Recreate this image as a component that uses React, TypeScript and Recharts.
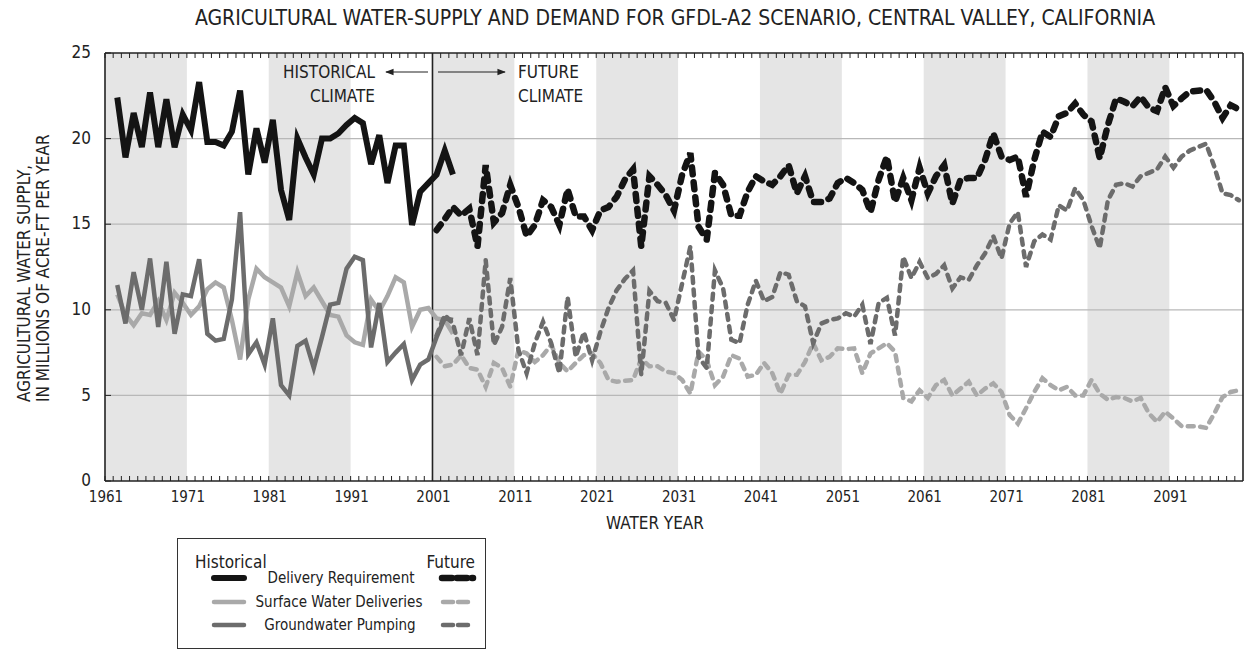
import React from "react";
import {
  LineChart,
  Line,
  XAxis,
  YAxis,
  ReferenceArea,
  ReferenceLine,
} from "recharts";

const FONT = "'Liberation Sans Narrow', 'DejaVu Sans Condensed', 'Roboto Condensed', sans-serif";
const INK = "#222";

// historical simulation, water years 1962-2003
const HIST_START = 1962;
const histDelivery = [
  22.4, 18.9, 21.5, 19.5, 22.7, 19.5, 22.3, 19.5, 21.4, 20.5,
  23.3, 19.8, 19.8, 19.6, 20.4, 22.8, 17.9, 20.6, 18.6, 21.1,
  17.0, 15.25, 20.0, 18.9, 17.9, 20.0, 20.0, 20.3, 20.8, 21.2,
  20.9, 18.5, 20.2, 17.4, 19.6, 19.6, 14.95, 16.9, 17.4, 17.9,
  19.3, 17.9,
];
const histSurface = [
  10.9, 9.7, 9.1, 9.8, 9.7, 10.5, 9.4, 11.0, 10.4, 9.7,
  10.2, 11.2, 11.6, 11.3, 9.4, 7.1, 10.6, 12.4, 11.9, 11.6,
  11.3, 10.2, 12.2, 10.8, 11.3, 10.5, 9.7, 9.6, 8.5, 8.1,
  7.95, 10.6, 9.9, 10.8, 11.9, 11.6, 9.0, 10.0, 10.1, 9.5,
  9.4, 8.6,
];
const histGround = [
  11.45, 9.2, 12.2, 10.0, 13.0, 9.0, 12.8, 8.6, 10.9, 10.8,
  12.95, 8.6, 8.2, 8.3, 10.6, 15.7, 7.4, 8.1, 6.8, 9.5,
  5.6, 5.0, 7.9, 8.2, 6.6, 8.4, 10.3, 10.4, 12.4, 13.1,
  12.9, 7.8, 10.4, 6.95, 7.5, 8.0, 5.9, 6.8, 7.1, 8.4,
  9.5, 9.4,
];

// GFDL-A2 future climate, water years 2001-2099
const FUT_START = 2001;
const futDelivery = [
  14.65, 15.3, 16.0, 15.5, 15.9, 13.7, 18.45, 15.1, 15.65, 17.3,
  16.0, 14.3, 14.95, 16.4, 16.0, 14.95, 17.05, 15.45, 15.45, 14.65,
  15.8, 16.0, 16.6, 17.6, 18.2, 13.7, 17.8, 17.3, 16.7, 15.8,
  17.9, 19.15, 14.85, 14.1, 18.0, 17.3, 15.5, 15.5, 16.9, 17.8,
  17.5, 17.3, 17.8, 18.45, 16.8, 17.8, 16.3, 16.3, 16.5, 17.4,
  17.7, 17.4, 17.0, 15.7, 17.6, 18.95, 16.3, 17.7, 16.4, 18.3,
  16.8, 17.8, 18.45, 16.2, 17.6, 17.7, 17.7, 18.75, 20.3, 18.95,
  18.75, 18.95, 16.6, 18.75, 20.4, 20.1, 21.3, 21.5, 22.05, 21.4,
  21.0, 18.85, 20.8, 22.35, 22.15, 21.9, 22.45, 21.8, 21.6, 23.0,
  21.9, 22.35, 22.75, 22.8, 22.85, 22.15, 21.2, 21.95, 21.7,
];
const futSurface = [
  7.25, 6.7, 6.8, 7.35, 6.6, 6.5, 5.5, 6.9, 6.6, 5.5,
  7.65, 7.45, 6.95, 7.35, 7.95, 6.9, 6.4, 6.9, 7.35, 7.45,
  6.9, 5.9, 5.8, 5.85, 5.9, 7.15, 6.7, 6.7, 6.4, 6.3,
  5.9, 5.1, 7.55, 7.05, 5.6, 6.1, 7.35, 7.15, 6.1, 6.2,
  6.9, 6.3, 5.1, 6.2, 6.2, 6.95, 8.05, 7.05, 7.25, 7.75,
  7.7, 7.75, 6.3, 7.45, 7.75, 8.05, 7.55, 4.85, 4.65, 5.3,
  4.85, 5.6, 5.9, 5.0, 5.4, 5.8, 5.0, 5.4, 5.7, 5.2,
  3.85, 3.35, 4.25, 5.2, 6.0, 5.6, 5.3, 5.5, 5.0, 5.0,
  5.9, 5.1, 4.75, 4.9, 4.85, 4.65, 4.85, 3.95, 3.45, 4.05,
  3.65, 3.2, 3.2, 3.2, 3.1, 3.95, 4.9, 5.2, 5.3,
];
const futGround = [
  8.5, 9.7, 9.2, 7.35, 9.5, 7.35, 12.9, 7.95, 9.0, 11.85,
  7.65, 6.3, 8.05, 9.3, 8.05, 6.3, 10.75, 7.25, 8.7, 7.05,
  8.7, 10.1, 11.15, 11.8, 12.3, 6.2, 11.1, 10.5, 10.4, 9.4,
  11.55, 13.7, 7.25, 6.6, 12.3, 11.25, 8.25, 8.05, 10.3, 11.7,
  10.5, 10.75, 12.2, 12.05, 10.5, 10.2, 8.05, 9.2, 9.4, 9.5,
  9.8, 9.6, 10.3, 8.0, 10.4, 10.7, 8.5, 13.1, 11.85, 12.8,
  11.85, 12.1, 12.6, 11.25, 11.9, 11.75, 12.6, 13.3, 14.3, 13.0,
  15.05, 15.7, 12.5, 14.0, 14.4, 14.1, 16.1, 15.8, 17.1, 16.4,
  14.9, 13.6, 16.4, 17.3, 17.4, 17.2, 17.8, 18.0, 18.2, 18.95,
  18.3, 18.95, 19.3, 19.5, 19.7, 18.35, 16.8, 16.7, 16.4,
];

const X_MIN = 1961;
const X_MAX = 2100;
const DECADES = [1961, 1971, 1981, 1991, 2001, 2011, 2021, 2031, 2041, 2051, 2061, 2071, 2081, 2091];
const SHADED = [1961, 1981, 2001, 2021, 2041, 2061, 2081];
const Y_TICKS = [0, 5, 10, 15, 20, 25];
const GRID = [5, 10, 15, 20];
const YEAR_TICKS = Array.from({ length: X_MAX - X_MIN }, (_, i) => X_MIN + i);

// one row per water year, plotted at mid-year
const rows: Record<string, number>[] = [];
for (let yr = HIST_START; yr < FUT_START + futDelivery.length; yr++) {
  const row: Record<string, number> = { x: yr + 0.5 };
  const h = yr - HIST_START;
  if (h >= 0 && h < histDelivery.length) {
    row.hDel = histDelivery[h];
    row.hSur = histSurface[h];
    row.hGw = histGround[h];
  }
  const f = yr - FUT_START;
  if (f >= 0 && f < futDelivery.length) {
    row.fDel = futDelivery[f];
    row.fSur = futSurface[f];
    row.fGw = futGround[f];
  }
  rows.push(row);
}

const BLACK = "#141414";
const LIGHT = "#a9a9a9";
const DARK = "#6c6c6c";

function BottomTick(props: any) {
  const { x, y, payload } = props;
  const v = payload.value;
  return (
    <g>
      <line x1={x} x2={x} y1={y} y2={y - 5} stroke={INK} strokeWidth={1} />
      {DECADES.includes(v) && (
        <text x={x + 1} y={y + 21} textAnchor="middle" fontSize={15} fontFamily={FONT} fill={INK}>
          {v}
        </text>
      )}
    </g>
  );
}

function TopTick(props: any) {
  const { x, y } = props;
  return <line x1={x} x2={x} y1={y} y2={y + 5} stroke={INK} strokeWidth={1} />;
}

function LeftTick(props: any) {
  const { x, y, payload } = props;
  return (
    <g>
      <line x1={x} x2={x + 6} y1={y} y2={y} stroke={INK} strokeWidth={1} />
      <text x={x - 14} y={y - 1} dy="0.36em" textAnchor="end" fontSize={17} fontFamily={FONT} fill={INK}>
        {payload.value}
      </text>
    </g>
  );
}

function RightTick(props: any) {
  const { x, y } = props;
  return <line x1={x} x2={x - 6} y1={y} y2={y} stroke={INK} strokeWidth={1} />;
}

const txt = { fontFamily: FONT, fill: INK };

export default function App() {
  return (
    <div style={{ position: "absolute", left: 0, top: 0, width: 1247, height: 651, background: "#fff" }}>
      <LineChart
        width={1247}
        height={651}
        data={rows}
        margin={{ top: 50, right: 0, bottom: 140, left: 60 }}
      >
        {SHADED.map((s) => (
          <ReferenceArea key={s} x1={s} x2={s + 10} fill="#e5e5e5" fillOpacity={1} stroke="none" />
        ))}
        {GRID.map((g) => (
          <ReferenceLine key={g} y={g} stroke="#b8b8b8" strokeWidth={1.2} />
        ))}
        <ReferenceLine x={2001} stroke={INK} strokeWidth={1.6} />
        <XAxis
          dataKey="x"
          type="number"
          domain={[X_MIN, X_MAX]}
          ticks={YEAR_TICKS}
          interval={0}
          height={30}
          tickSize={0}
          tickMargin={0}
          tickLine={false}
          tick={<BottomTick />}
          axisLine={{ stroke: INK, strokeWidth: 1.6 }}
          allowDataOverflow
        />
        <XAxis
          xAxisId="top"
          orientation="top"
          dataKey="x"
          type="number"
          domain={[X_MIN, X_MAX]}
          ticks={YEAR_TICKS}
          interval={0}
          height={3}
          tickSize={0}
          tickMargin={0}
          tickLine={false}
          tick={<TopTick />}
          axisLine={{ stroke: INK, strokeWidth: 1.6 }}
          allowDataOverflow
        />
        <YAxis
          type="number"
          domain={[0, 25]}
          ticks={Y_TICKS}
          interval={0}
          width={45}
          tickSize={0}
          tickMargin={0}
          tickLine={false}
          tick={<LeftTick />}
          axisLine={{ stroke: INK, strokeWidth: 1.6 }}
        />
        <YAxis
          yAxisId="right"
          orientation="right"
          type="number"
          domain={[0, 25]}
          ticks={Y_TICKS}
          interval={0}
          width={4}
          tickSize={0}
          tickMargin={0}
          tickLine={false}
          tick={<RightTick />}
          axisLine={{ stroke: INK, strokeWidth: 1.6 }}
        />
        <Line dataKey="hSur" stroke={LIGHT} strokeWidth={4.5} dot={false} isAnimationActive={false} />
        <Line dataKey="hGw" stroke={DARK} strokeWidth={4.5} dot={false} isAnimationActive={false} />
        <Line dataKey="hDel" stroke={BLACK} strokeWidth={6} dot={false} isAnimationActive={false} />
        <Line
          dataKey="fSur"
          stroke={LIGHT}
          strokeWidth={4.5}
          strokeDasharray="6 6.5"
          strokeLinecap="round"
          dot={false}
          isAnimationActive={false}
        />
        <Line
          dataKey="fGw"
          stroke={DARK}
          strokeWidth={4.5}
          strokeDasharray="6 6.5"
          strokeLinecap="round"
          dot={false}
          isAnimationActive={false}
        />
        <Line
          dataKey="fDel"
          stroke={BLACK}
          strokeWidth={6.5}
          strokeDasharray="7 8"
          strokeLinecap="round"
          dot={false}
          isAnimationActive={false}
        />
      </LineChart>

      <svg width={1247} height={651} style={{ position: "absolute", left: 0, top: 0, pointerEvents: "none" }}>
        <defs>
          <marker id="ah" viewBox="0 0 10 10" refX="9" refY="5" markerWidth="9" markerHeight="7" orient="auto-start-reverse">
            <path d="M0,1 L10,5 L0,9 Z" fill={INK} />
          </marker>
        </defs>
        <text x={675} y={25} textAnchor="middle" fontSize={21} {...txt}>
          AGRICULTURAL WATER-SUPPLY AND DEMAND FOR GFDL-A2 SCENARIO, CENTRAL VALLEY, CALIFORNIA
        </text>
        <text transform="translate(30 402) rotate(-90)" fontSize={17} {...txt}>
          AGRICULTURAL WATER SUPPLY,
        </text>
        <text transform="translate(49 402) rotate(-90)" fontSize={17} {...txt}>
          IN MILLIONS OF ACRE-FT PER YEAR
        </text>
        <text x={655} y={529} textAnchor="middle" fontSize={17} {...txt}>
          WATER YEAR
        </text>

        <text x={375} y={78} textAnchor="end" fontSize={17} {...txt}>HISTORICAL</text>
        <text x={375} y={102} textAnchor="end" fontSize={17} {...txt}>CLIMATE</text>
        <line x1={428} x2={386} y1={72} y2={72} stroke={INK} strokeWidth={1.2} markerEnd="url(#ah)" />
        <line x1={438} x2={505} y1={72} y2={72} stroke={INK} strokeWidth={1.2} markerEnd="url(#ah)" />
        <text x={518} y={78} fontSize={17} {...txt}>FUTURE</text>
        <text x={518} y={102} fontSize={17} {...txt}>CLIMATE</text>

        <rect x={177.5} y={538.5} width={308} height={110} fill="#fff" stroke="#333" strokeWidth={1} />
        <text x={195} y={568} fontSize={17} {...txt}>Historical</text>
        <text x={475} y={568} textAnchor="end" fontSize={17} {...txt}>Future</text>

        <line x1={214} x2={244} y1={578} y2={578} stroke={BLACK} strokeWidth={6} strokeLinecap="round" />
        <text x={341} y={583} textAnchor="middle" fontSize={15} {...txt}>Delivery Requirement</text>
        <line x1={442} x2={473} y1={578} y2={578} stroke={BLACK} strokeWidth={6.5} strokeLinecap="round" strokeDasharray="10 5" />

        <line x1={214} x2={244} y1={602} y2={602} stroke={LIGHT} strokeWidth={4.5} strokeLinecap="round" />
        <text x={339} y={607} textAnchor="middle" fontSize={15} {...txt}>Surface Water Deliveries</text>
        <line x1={443} x2={472} y1={602} y2={602} stroke={LIGHT} strokeWidth={4.5} strokeLinecap="round" strokeDasharray="10 5" />

        <line x1={214} x2={244} y1={625} y2={625} stroke={DARK} strokeWidth={4.5} strokeLinecap="round" />
        <text x={340} y={630} textAnchor="middle" fontSize={15} {...txt}>Groundwater Pumping</text>
        <line x1={443} x2={472} y1={625} y2={625} stroke={DARK} strokeWidth={4.5} strokeLinecap="round" strokeDasharray="10 5" />
      </svg>
    </div>
  );
}
